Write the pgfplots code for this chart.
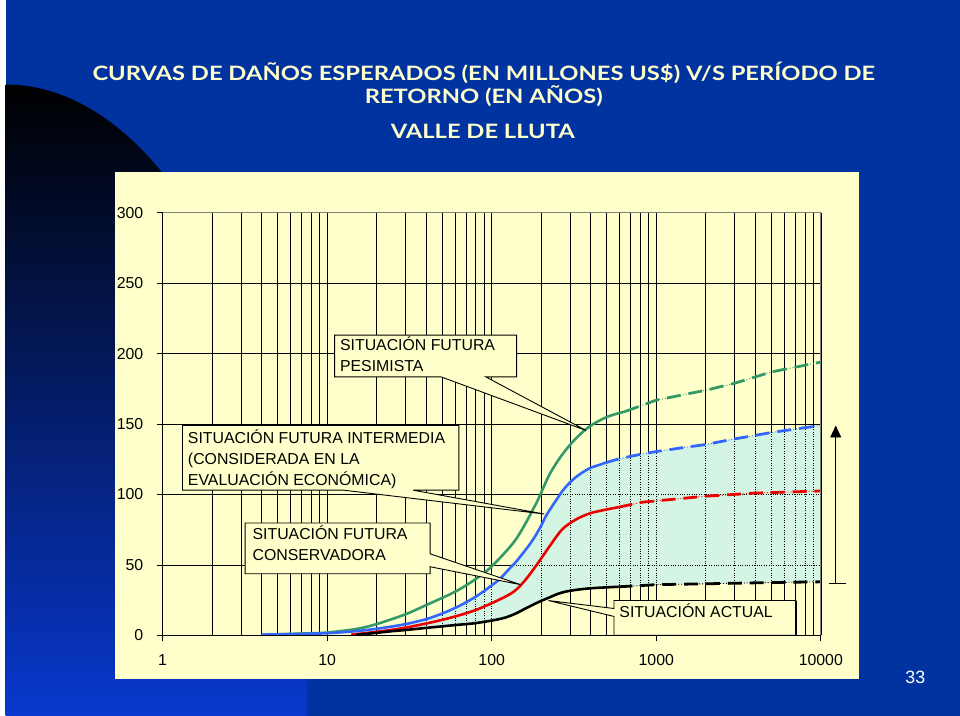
\documentclass[border=0pt]{standalone}
\usepackage{graphicx}
\usepackage{pgfplots}
\pgfplotsset{compat=1.18}
\usepackage{pgfplotstable}
\usetikzlibrary{arrows.meta}
\usepackage{fontspec}
\setmainfont{Liberation Sans}
\newfontfamily\titlefont{Lato}

\definecolor{slideblue}{RGB}{0,51,160}
\definecolor{leftblue}{RGB}{8,56,205}
\definecolor{chartbg}{RGB}{255,255,204}
\definecolor{shadecol}{RGB}{212,245,228}
\definecolor{cgreen}{RGB}{51,153,102}
\definecolor{cblue}{RGB}{51,102,255}
\definecolor{cred}{RGB}{235,0,0}
\definecolor{titlecol}{RGB}{255,255,204}

% ---------- data ----------
\pgfplotstableread{
x y
4 0.5
6 1
8 1.5
10 2
15 4.5
20 8
30 15
40 21.5
60 31
80 40
100 49
140 68
185 93
224 114
267 128
320 139
390 148
500 155
650 159
}\greensolid
\pgfplotstableread{
x y
650 159
1000 167
2000 174
3000 179
5000 187
10000 194
}\greendash
\pgfplotstableread{
x y
4 0.5
6 0.9
10 1.5
15 3
20 4.7
25 6.4
30 8
40 11.5
50 15.5
60 19.5
70 23.5
80 27.5
90 31.5
100 35.5
112 40
125 46
140 52
154 58
170 64.5
185 71
200 78
212 84
225 89
240 94
255 98.5
267 102
290 107
322 112
360 116
400 119
450 121
490 122.5
}\bluesolid
\pgfplotstableread{
x y
490 122.5
600 125.5
800 128.5
1000 130.5
1500 133.5
2000 135.5
3000 139.5
4000 142
5000 144
7000 146.5
10000 149
}\bluedash
\pgfplotstableread{
x y
14 0.5
20 2.5
30 5.5
50 11
80 18
128 29
154 37
185 49
224 63
267 75
322 82
405 87
590 91
}\redsolid
\pgfplotstableread{
x y
590 91
817 94.5
2000 98.8
4000 101
10000 102.5
}\reddash
\pgfplotstableread{
x y
15 0.3
20 1.8
25 3
30 3.8
40 5.3
50 6.4
60 7.3
70 8
80 8.7
100 10.5
120 12.5
140 15.5
160 19
180 22
200 24.5
225 27
250 29.3
280 31
322 32.2
380 33.2
450 33.8
590 34.5
}\blacksolid
\pgfplotstableread{
x y
590 34.5
800 35.3
1000 36
2000 36.6
3000 37
5000 37.5
10000 38
}\blackdash
% shaded band: current situation (forward) then intermediate situation (backward)
\pgfplotstableread{
x y
15 0.3
20 1.8
25 3
30 3.8
40 5.3
50 6.4
60 7.3
70 8
80 8.7
100 10.5
120 12.5
140 15.5
160 19
180 22
200 24.5
225 27
250 29.3
280 31
322 32.2
380 33.2
450 33.8
590 34.5
800 35.3
1000 36
2000 36.6
3000 37
5000 37.5
10000 38
10000 149
7000 146.5
5000 144
4000 142
3000 139.5
2000 135.5
1500 133.5
1000 130.5
800 128.5
600 125.5
490 122.5
450 121
400 119
360 116
322 112
290 107
267 102
255 98.5
240 94
225 89
212 84
200 78
185 71
170 64.5
154 58
140 52
125 46
112 40
100 35.5
90 31.5
80 27.5
70 23.5
60 19.5
50 15.5
40 11.5
30 8
25 6.4
20 4.7
15 3
}\band

\newlength\tlen

\begin{document}
\settowidth\tlen{\titlefont\bfseries\fontsize{20}{24}\selectfont CURVAS DE DAÑOS ESPERADOS (EN MILLONES US\$) V/S PERÍODO DE}
\pgfmathsetmacro\tsx{789.95/\tlen}
\begin{tikzpicture}
\begin{scope}[x=1bp,y=-1bp]
% background
\fill[slideblue] (0,0) rectangle (960,720);
\shade[top color=black, bottom color=leftblue]
  (0,85) arc[start angle=-90, end angle=0, x radius=303, y radius=607] -- (303,720) -- (0,720) -- cycle;
% title
\node[anchor=base, text=titlecol] at (481,81) {\scalebox{\tsx}[1]{\titlefont\bfseries\fontsize{20}{24}\selectfont CURVAS DE DAÑOS ESPERADOS (EN MILLONES US\$) V/S PERÍODO DE}};
\node[anchor=base, text=titlecol] at (481,104) {\scalebox{\tsx}[1]{\titlefont\bfseries\fontsize{20}{24}\selectfont RETORNO (EN AÑOS)}};
\node[anchor=base, text=titlecol] at (480,139) {\scalebox{\tsx}[1]{\titlefont\bfseries\fontsize{20}{24}\selectfont VALLE DE LLUTA}};
% page number
\node[anchor=base, text=white, font=\fontsize{18}{20}\selectfont] at (915,687) {33};
% chart area
\fill[chartbg] (110,173) rectangle (858,683);
\end{scope}

\begin{axis}[
  at={(158bp,-639bp)}, anchor=south west,
  scale only axis, width=662bp, height=425bp,
  xmode=log, xmin=1, xmax=10000, ymin=0, ymax=300,
  xtick={1,10,100,1000,10000},
  xticklabels={1,10,100,1000,10000},
  minor xtick={2,3,4,5,6,7,8,9,20,30,40,50,60,70,80,90,200,300,400,500,600,700,800,900,2000,3000,4000,5000,6000,7000,8000,9000},
  ytick={0,50,100,150,200,250,300},
  yticklabels={0,50,100,150,200,250,300},
  grid=both,
  major grid style={black, line width=0.6bp},
  minor grid style={black, line width=0.6bp},
  axis line style={draw=none},
  tick align=outside, xtick pos=left, ytick pos=left,
  major tick length=6bp, minor tick length=0bp,
  tick style={black, line width=0.7bp},
  tick label style={font=\fontsize{16}{19}\selectfont},
  yticklabel style={xshift=-10bp},
  xticklabel style={yshift=-10bp},
  gridover/.style={black, line width=0.6bp, dash pattern=on 0.8bp off 1.6bp},
  solidc/.style={line width=2.6bp, smooth, no marks},
  thinc/.style={line width=0.9bp, dash pattern=on 1bp off 2bp, no marks},
  thickc/.style={line width=2.8bp, dash pattern=on 14bp off 8bp, no marks},
  after end axis/.code={
    \draw[gray, line width=0.8bp] (rel axis cs:0,1) -- (rel axis cs:1,1) -- (rel axis cs:1,0);
    \draw[black, line width=0.8bp] (rel axis cs:0,1) -- (rel axis cs:0,0) -- (rel axis cs:1,0);
  },
]
% shaded band between current and intermediate situations
\addplot[fill=shadecol, draw=none, no marks] table {\band} -- cycle;
% dotted grid over the band
\addplot[gridover, ycomb, no marks] coordinates {
 (20,300) (30,300) (40,300) (50,300) (60,300) (70,300) (80,300) (90,300) (100,300)
 (200,300) (300,300) (400,300) (500,300) (600,300) (700,300) (800,300) (900,300) (1000,300)
 (2000,300) (3000,300) (4000,300) (5000,300) (6000,300) (7000,300) (8000,300) (9000,300)};
\addplot[gridover, no marks] coordinates {(100,50) (10000,50)};
\addplot[gridover, no marks] coordinates {(200,100) (10000,100)};
% curves
\addplot[cgreen, solidc] table {\greensolid};
\addplot[cgreen, thinc] table {\greendash};
\addplot[cgreen, thickc] table {\greendash};
\addplot[cblue, solidc] table {\bluesolid};
\addplot[cblue, thinc] table {\bluedash};
\addplot[cblue, thickc] table {\bluedash};
\addplot[cred, solidc] table {\redsolid};
\addplot[cred, thinc] table {\reddash};
\addplot[cred, thickc] table {\reddash};
\addplot[black, solidc] table {\blacksolid};
\addplot[black, thinc] table {\blackdash};
\addplot[black, thickc] table {\blackdash};
\end{axis}

\begin{scope}[x=1bp,y=-1bp]
% callouts
\filldraw[fill=chartbg, draw=black, line width=0.9bp]
  (331,337) -- (514,337) -- (514,379) -- (483,379) -- (584,433) -- (438,379) -- (331,379) -- cycle;
\node[anchor=base west, font=\fontsize{16}{19}\selectfont] at (333,353) {SITUACIÓN FUTURA};
\node[anchor=base west, font=\fontsize{16}{19}\selectfont] at (333,374) {PESIMISTA};

\filldraw[fill=chartbg, draw=black, line width=0.9bp]
  (178,428) -- (456,428) -- (456,493) -- (410,493) -- (542,517) -- (340,493) -- (178,493) -- cycle;
\node[anchor=base west, font=\fontsize{16}{19}\selectfont] at (180,446) {SITUACIÓN FUTURA INTERMEDIA};
\node[anchor=base west, font=\fontsize{16}{19}\selectfont] at (180,467) {(CONSIDERADA EN LA};
\node[anchor=base west, font=\fontsize{16}{19}\selectfont] at (180,488) {EVALUACIÓN ECONÓMICA)};

\filldraw[fill=chartbg, draw=black, line width=0.9bp]
  (241,526) -- (427,526) -- (427,557) -- (518,588) -- (427,570) -- (427,577) -- (241,577) -- cycle;
\node[anchor=base west, font=\fontsize{16}{19}\selectfont] at (245,543) {SITUACIÓN FUTURA};
\node[anchor=base west, font=\fontsize{16}{19}\selectfont] at (245,564) {CONSERVADORA};

\filldraw[fill=chartbg, draw=black, line width=0.9bp]
  (612,604) -- (795,604) -- (795,639) -- (612,639) -- (612,620) -- (546,604) -- (612,612) -- cycle;
\draw[black, line width=1.6bp] (612,639) -- (795,639) -- (795,604);
\node[anchor=base west, font=\fontsize{16}{19}\selectfont] at (614,621) {SITUACIÓN ACTUAL};

% range arrow
\draw[black, line width=0.9bp] (828,587) -- (845,587);
\draw[black, line width=0.9bp, -{Triangle[length=12bp,width=11bp]}] (835,587) -- (835,428);
\end{scope}
\end{tikzpicture}
\end{document}
